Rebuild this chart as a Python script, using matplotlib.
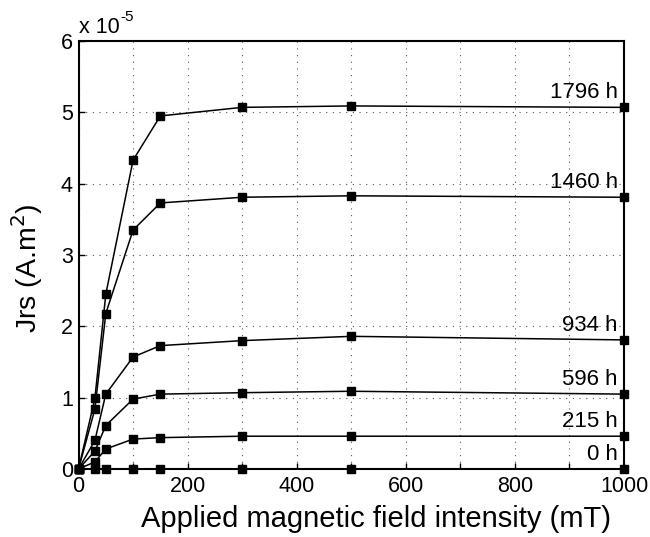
import numpy as np
import matplotlib
matplotlib.use("Agg")
import matplotlib.pyplot as plt

plt.rcParams['font.family'] = ['Liberation Sans', 'DejaVu Sans']

# field intensity (mT)
field = [0, 30, 50, 100, 150, 300, 500, 1000]

# Jrs in units of 1e-5 A.m^2, one list per exposure time
labels = ['1796 h', '1460 h', '934 h', '596 h', '215 h', '0 h']
j1796 = [0, 0.99, 2.45, 4.33, 4.95, 5.07, 5.09, 5.07]
j1460 = [0, 0.84, 2.18, 3.35, 3.73, 3.81, 3.83, 3.81]
j934 = [0, 0.40, 1.05, 1.57, 1.73, 1.80, 1.86, 1.81]
j596 = [0, 0.25, 0.61, 0.98, 1.05, 1.07, 1.09, 1.05]
j215 = [0, 0.10, 0.28, 0.42, 0.44, 0.46, 0.46, 0.46]
j0 = [0, 0, 0, 0, 0, 0, 0, 0]
series = [j1796, j1460, j934, j596, j215, j0]

xticks = np.arange(0, 1001, 100)
xticklabels = ['0', '', '200', '', '400', '', '600', '', '800', '', '1000']
yticks = np.arange(0, 7) * 1e-5
yticklabels = ['0', '1', '2', '3', '4', '5', '6']

fig = plt.figure(figsize=(6.5, 5.37), dpi=100)
ax = fig.add_axes([0.1208, 0.1266, 0.8392, 0.797])

for lab, vals in zip(labels, series):
    y = np.array(vals) * 1e-5
    ax.plot(field, y, color='black', linewidth=1.1, marker='s', markersize=6,
            clip_on=False, zorder=3)
    ax.annotate(lab, xy=(989, y[-1]), xytext=(0, 3), textcoords='offset points',
                ha='right', va='bottom', fontsize=16)

ax.set_xlim(0, 1000)
ax.set_ylim(0, 6e-5)
ax.set_xticks(xticks)
ax.set_xticklabels(xticklabels)
ax.set_yticks(yticks)
ax.set_yticklabels(yticklabels)
ax.grid(True, linestyle=(0, (1, 5)), color='#555555', linewidth=0.8)
ax.tick_params(direction='in', labelsize=15.5, length=4, width=1, pad=5)
ax.tick_params(axis='y', pad=4)
for sp in ax.spines.values():
    sp.set_linewidth(1.5)

t1 = ax.text(0.0, 1.008, 'x 10', transform=ax.transAxes, fontsize=15.5,
             ha='left', va='bottom')
ax.annotate('-5', xy=(1, 1), xycoords=t1, xytext=(1, -5), textcoords='offset points',
            ha='left', va='bottom', fontsize=11)

ax.set_xlabel('Applied magnetic field intensity (mT)', fontsize=21)
ax.xaxis.set_label_coords(0.545, -0.085)
ax.set_ylabel(r'Jrs (A.m$^2$)', fontsize=20.5)
ax.yaxis.set_label_coords(-0.062, 0.47)

fig.savefig('out.png', dpi=100)
